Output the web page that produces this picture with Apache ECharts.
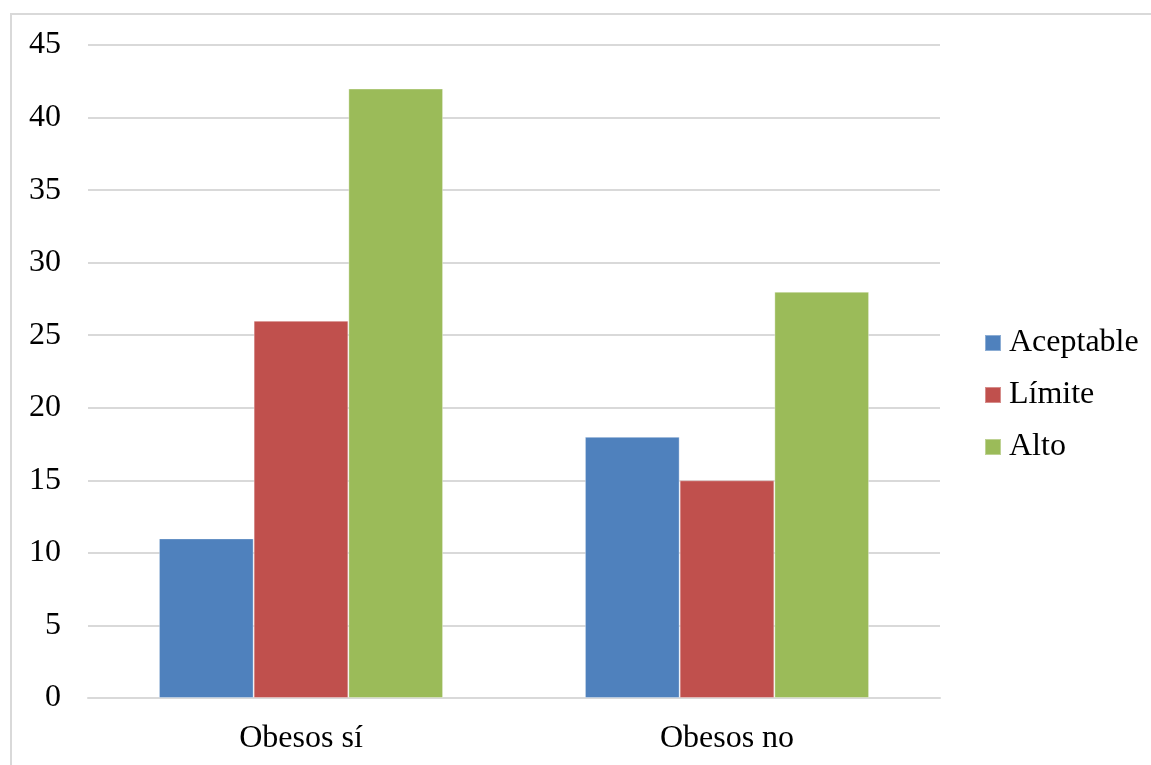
<!DOCTYPE html>
<html>
<head>
<meta charset="utf-8">
<script src="https://cdn.jsdelivr.net/npm/echarts@6/dist/echarts.min.js"></script>
<style>
  html, body { margin: 0; padding: 0; background: #fff; }
  #chart { width: 1151px; height: 765px; }
</style>
</head>
<body>
<div id="chart"></div>
<script>
// Categories and series values
const categories = ['Obesos sí', 'Obesos no'];
const aceptable = [11, 18];
const limite = [26, 15];
const alto = [42, 28];
const seriesNames = ['Aceptable', 'Límite', 'Alto'];
const seriesColors = ['#4F81BD', '#C0504D', '#9BBB59'];

const FONT = '"Liberation Serif", "Times New Roman", serif';

const chart = echarts.init(document.getElementById('chart'), null, { renderer: 'canvas' });

const values = [aceptable, limite, alto];

chart.setOption({
  backgroundColor: '#ffffff',
  animation: false,
  textStyle: { fontFamily: FONT, color: '#000' },
  graphic: [{
    type: 'rect',
    silent: true,
    shape: { x: 11, y: 14, width: 1200, height: 800 },
    style: { fill: 'none', stroke: '#d9d9d9', lineWidth: 2 }
  }],
  grid: { left: 88, right: 211, top: 45, bottom: 67, containLabel: false },
  legend: {
    orient: 'vertical',
    left: 979,
    top: 322,
    itemWidth: 16,
    itemHeight: 16,
    itemGap: 20,
    icon: 'rect',
    data: seriesNames,
    textStyle: { fontFamily: FONT, fontSize: 32, color: '#000', padding: [0, 0, 0, 3] }
  },
  xAxis: {
    type: 'category',
    data: categories,
    axisTick: { show: false },
    axisLine: { show: true, lineStyle: { color: '#d9d9d9', width: 2 } },
    axisLabel: { fontFamily: FONT, fontSize: 32, color: '#000', margin: 25 }
  },
  yAxis: {
    type: 'value',
    min: 0,
    max: 45,
    interval: 5,
    axisLine: { show: false },
    axisTick: { show: false },
    splitLine: { lineStyle: { color: '#d9d9d9', width: 2 } },
    axisLabel: { fontFamily: FONT, fontSize: 32, color: '#000', margin: 27 }
  },
  series: seriesNames.map((name, i) => ({
    name: name,
    type: 'bar',
    data: values[i],
    barGap: '0%',
    barCategoryGap: '33.3%',
    itemStyle: { color: seriesColors[i], borderColor: 'rgba(255,255,255,0.35)', borderWidth: 1 }
  }))
});
</script>
</body>
</html>
